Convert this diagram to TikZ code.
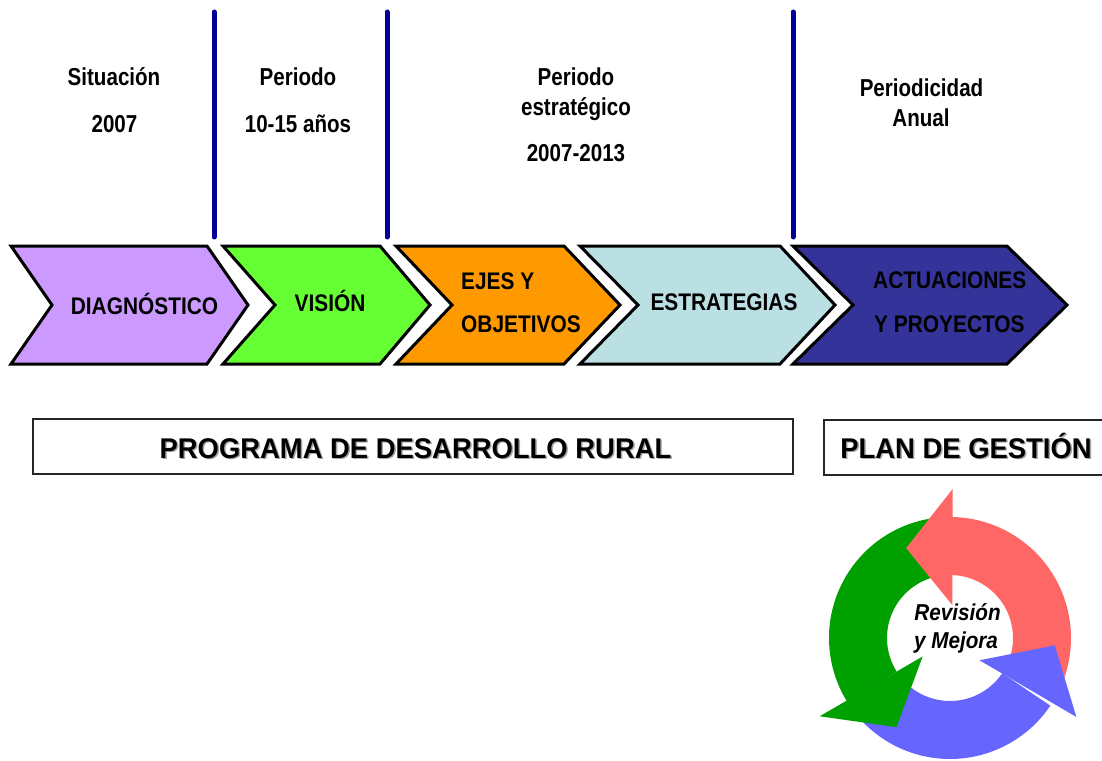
\documentclass[tikz,border=0pt]{standalone}
\usepackage{fontspec}
\setmainfont{Liberation Sans}
\newfontfamily\ftop{Liberation Sans}[FakeStretch=0.84]
\newfontfamily\fchev{Liberation Sans}[FakeStretch=0.87]
\newfontfamily\fbar{Liberation Sans}[FakeStretch=0.962]
\newfontfamily\fcyc{Liberation Sans}[FakeStretch=0.9]
\definecolor{cPurple}{RGB}{204,153,255}
\definecolor{cGreen}{RGB}{102,255,51}
\definecolor{cOrange}{RGB}{255,153,0}
\definecolor{cLight}{RGB}{187,224,227}
\definecolor{cDark}{RGB}{51,51,153}
\definecolor{lineBlue}{RGB}{0,0,153}
\definecolor{arRed}{RGB}{255,102,102}
\definecolor{arGreen}{RGB}{0,160,0}
\definecolor{arBlue}{RGB}{102,102,255}
\tikzset{
  toplabel/.style={anchor=base, inner sep=0pt, font={\ftop\bfseries\fontsize{24.5bp}{29bp}\selectfont}},
  chevtext/.style={anchor=base, inner sep=0pt, font={\fchev\bfseries\fontsize{24bp}{29bp}\selectfont}},
  chevshape/.style={draw=black, line width=3bp, line join=miter},
  vline/.style={draw=lineBlue, line width=5bp, line cap=round},
  barbox/.style={draw=black!85, line width=1.3bp},
  bartext/.style={anchor=base, inner sep=0pt, font={\fbar\bfseries\fontsize{28.5bp}{34bp}\selectfont}},
  barshadow/.style={bartext, text=black!35},
  cyctext/.style={anchor=base, inner sep=0pt, font={\fcyc\bfseries\itshape\fontsize{23bp}{28bp}\selectfont}}
}
\begin{document}
\begin{tikzpicture}[x=1bp,y=-1bp]
\clip (0,0) rectangle (1102,761);
\fill[white] (0,0) rectangle (1102,761);

% vertical separators
\coordinate (l1t) at (214,12); \coordinate (l1b) at (214,237);
\coordinate (l2t) at (387,12); \coordinate (l2b) at (387,237);
\coordinate (l3t) at (793,12); \coordinate (l3b) at (793,237);
\draw[vline] (l1t) -- (l1b);
\draw[vline] (l2t) -- (l2b);
\draw[vline] (l3t) -- (l3b);

% top labels
\node[toplabel] (sit)  at (114,86)  {Situación};
\node[toplabel] (y07)  at (114.5,132) {2007};
\node[toplabel] (per1) at (298,86)  {Periodo};
\node[toplabel] (yrs)  at (298,132) {10-15 años};
\node[toplabel] (per2) at (576,86)  {Periodo};
\node[toplabel] (estr) at (576,115) {estratégico};
\node[toplabel] (y713) at (576,161) {2007-2013};
\node[toplabel] (pdic) at (921.5,97) {Periodicidad};
\node[toplabel] (anu)  at (921,126) {Anual};

% chevrons
\draw[chevshape, fill=cPurple] (11,246) -- (207,246) -- (248,305) -- (207,364) -- (11,364) -- (52,305) -- cycle;
\draw[chevshape, fill=cGreen]  (223,246) -- (380,246) -- (430,305) -- (380,364) -- (223,364) -- (275,305) -- cycle;
\draw[chevshape, fill=cOrange] (396,246) -- (564,246) -- (620,305) -- (564,364) -- (396,364) -- (452,305) -- cycle;
\draw[chevshape, fill=cLight]  (580,246) -- (780,246) -- (835,305) -- (780,364) -- (580,364) -- (638,305) -- cycle;
\draw[chevshape, fill=cDark]   (793,246) -- (1007,246) -- (1067,305) -- (1007,364) -- (793,364) -- (853,305) -- cycle;

\node[chevtext] (diag) at (144.5,314) {DIAGNÓSTICO};
\node[chevtext] (vis)  at (330,311) {VISIÓN};
\node[chevtext, anchor=base west] (ejes) at (461,289) {EJES Y};
\node[chevtext, anchor=base west] (obj)  at (461,332) {OBJETIVOS};
\node[chevtext] (est)  at (724,310) {ESTRATEGIAS};
\node[chevtext, anchor=base west] (act)  at (873,288) {ACTUACIONES};
\node[chevtext, anchor=base west] (proy) at (874,332) {Y PROYECTOS};

% bottom boxes
\draw[barbox] (33,419) rectangle (793,474);
\draw[barbox] (824,420) rectangle (1115,475);
\node[barshadow] (progS) at (417,459.5) {PROGRAMA DE DESARROLLO RURAL};
\node[bartext]   (prog)  at (415.5,458) {PROGRAMA DE DESARROLLO RURAL};
\node[barshadow] (planS) at (967.5,459.5) {PLAN DE GESTIÓN};
\node[bartext]   (plan)  at (966,458) {PLAN DE GESTIÓN};

% cycle
\begin{scope}[shift={(950,638)}, yscale=-1]
  % bodies
  \fill[arRed]   (-25:121) arc[start angle=-25, end angle=89, radius=121] -- (89:63) arc[start angle=89, end angle=-25, radius=63] -- cycle;
  \fill[arGreen] (96:121) arc[start angle=96, end angle=212, radius=121] -- (212:63) arc[start angle=212, end angle=96, radius=63] -- cycle;
  \fill[arBlue]  (222:121) arc[start angle=222, end angle=326, radius=121] -- (326:63) arc[start angle=326, end angle=222, radius=63] -- cycle;
  % heads
  \fill[arRed]   (86:33) -- (89:149) -- (116:100) -- cycle;
  \fill[arGreen] (214:33) -- (211:152) -- (239:104) -- cycle;
  \fill[arBlue]  (323:37) -- (328:149) -- (356:105) -- cycle;
\end{scope}
\node[cyctext] (rev) at (957.5,620) {Revisión};
\node[cyctext] (mej) at (956,648) {y Mejora};
\end{tikzpicture}
\end{document}
